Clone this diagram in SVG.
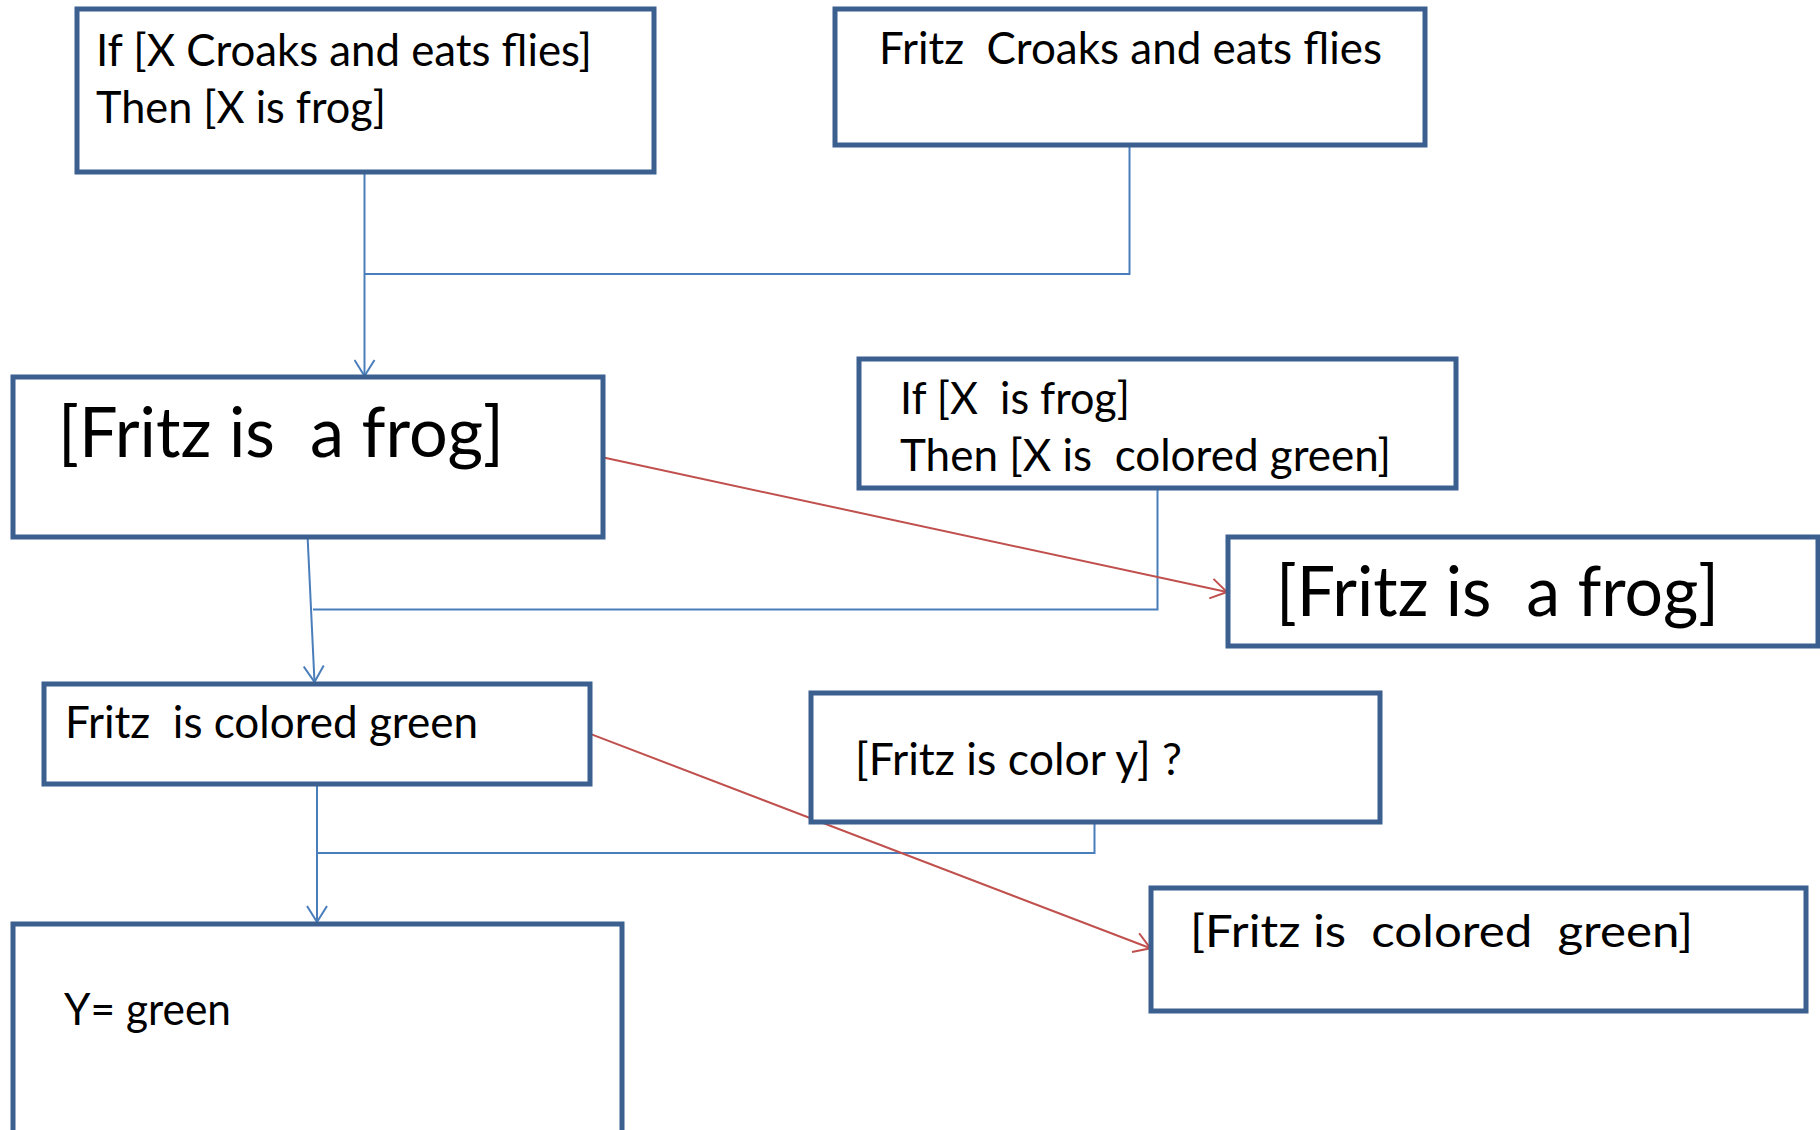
<svg xmlns="http://www.w3.org/2000/svg" width="1820" height="1130" viewBox="0 0 1820 1130">
  <style>
    .box { fill: #ffffff; stroke: #3b5f8f; stroke-width: 5; }
    .t { font-family: Lato, "Open Sans", sans-serif; fill: #000000; white-space: pre; }
    .m { font-size: 45px; }
    .l { font-size: 69px; }
    .link { fill: none; stroke: #4a7ebb; stroke-width: 2; }
    .red { fill: none; stroke: #c0504d; stroke-width: 2; }
  </style>
  <defs>
    <marker id="arrowBlue" viewBox="0 0 18 22" refX="17" refY="11" markerWidth="18" markerHeight="22" markerUnits="userSpaceOnUse" orient="auto">
      <path d="M1,1 L17,11 L1,21" fill="none" stroke="#4a7ebb" stroke-width="2"/>
    </marker>
    <marker id="arrowRed" viewBox="0 0 18 22" refX="17" refY="11" markerWidth="18" markerHeight="22" markerUnits="userSpaceOnUse" orient="auto">
      <path d="M1,1 L17,11 L1,21" fill="none" stroke="#c0504d" stroke-width="2"/>
    </marker>
  </defs>

  <rect width="1820" height="1130" fill="#ffffff"/>

  <g id="connectors">
    <!-- rule + fact merge into first conclusion -->
    <line class="link" x1="364.5" y1="172" x2="364.5" y2="376" marker-end="url(#arrowBlue)"/>
    <polyline class="link" points="1129.5,145 1129.5,274 364.5,274"/>
    <!-- second rule merge -->
    <line class="link" x1="307.6" y1="537" x2="314.5" y2="682" marker-end="url(#arrowBlue)"/>
    <polyline class="link" points="1157.5,488 1157.5,609.5 313,609.5"/>
    <!-- query merge -->
    <line class="link" x1="317" y1="784" x2="317" y2="922" marker-end="url(#arrowBlue)"/>
    <polyline class="link" points="1094.5,822 1094.5,853 317,853"/>
    <!-- red matches -->
    <line class="red" x1="602.4" y1="457.3" x2="1227" y2="592" marker-end="url(#arrowRed)"/>
    <line class="red" x1="589.6" y1="733.6" x2="1150.5" y2="948.3" marker-end="url(#arrowRed)"/>
  </g>

  <g id="rule-frog">
    <rect class="box" x="77" y="9" width="577" height="163"/>
    <text class="t m" x="96" y="66" textLength="496" lengthAdjust="spacingAndGlyphs">If [X Croaks and eats flies]</text>
    <text class="t m" x="96" y="123" textLength="290" lengthAdjust="spacingAndGlyphs">Then [X is frog]</text>
  </g>

  <g id="fact-croaks">
    <rect class="box" x="835" y="9" width="590" height="136"/>
    <text class="t m" x="879" y="64" textLength="503" lengthAdjust="spacingAndGlyphs">Fritz  Croaks and eats flies</text>
  </g>

  <g id="fritz-frog">
    <rect class="box" x="13" y="377" width="590" height="160"/>
    <text class="t l" x="58" y="457" textLength="446" lengthAdjust="spacingAndGlyphs">[Fritz is  a frog]</text>
  </g>

  <g id="rule-green">
    <rect class="box" x="859" y="359" width="597" height="129"/>
    <text class="t m" x="900" y="414" textLength="230" lengthAdjust="spacingAndGlyphs">If [X  is frog]</text>
    <text class="t m" x="900" y="471" textLength="491" lengthAdjust="spacingAndGlyphs">Then [X is  colored green]</text>
  </g>

  <g id="match-frog">
    <rect class="box" x="1228" y="537" width="590" height="109"/>
    <text class="t l" x="1276" y="616" textLength="443" lengthAdjust="spacingAndGlyphs">[Fritz is  a frog]</text>
  </g>

  <g id="fritz-green">
    <rect class="box" x="44" y="684" width="546" height="100"/>
    <text class="t m" x="65" y="738" textLength="413" lengthAdjust="spacingAndGlyphs">Fritz  is colored green</text>
  </g>

  <g id="query-color">
    <rect class="box" x="811" y="693" width="569" height="129"/>
    <text class="t m" x="855" y="775" textLength="327" lengthAdjust="spacingAndGlyphs">[Fritz is color y] ?</text>
  </g>

  <g id="match-green">
    <rect class="box" x="1151" y="888" width="655" height="123"/>
    <text class="t m" x="1190" y="947" textLength="503" lengthAdjust="spacingAndGlyphs">[Fritz is  colored  green]</text>
  </g>

  <g id="answer">
    <rect class="box" x="13" y="924" width="609" height="230"/>
    <text class="t m" x="64" y="1025" textLength="167" lengthAdjust="spacingAndGlyphs">Y= green</text>
  </g>
</svg>
